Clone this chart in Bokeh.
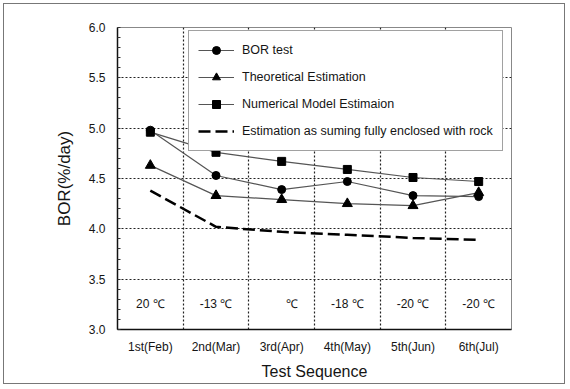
from bokeh.plotting import figure
from bokeh.models import FixedTicker, Legend, LegendItem, ColumnDataSource, Range1d
from bokeh.embed import file_html
from bokeh.resources import INLINE
from bokeh.core.properties import value

# ---- data ----
categories = ["1st(Feb)", "2nd(Mar)", "3rd(Apr)", "4th(May)", "5th(Jun)", "6th(Jul)"]
seq = [1, 2, 3, 4, 5, 6]
bor_test = [4.98, 4.53, 4.39, 4.47, 4.33, 4.32]
theoretical = [4.63, 4.33, 4.29, 4.25, 4.23, 4.36]
numerical = [4.96, 4.76, 4.67, 4.59, 4.51, 4.47]
rock_estimation = [4.38, 4.02, 3.97, 3.94, 3.91, 3.89]
temperatures = ["20 ℃", "-13 ℃", "\u00a0" * 6 + "℃", "-18 ℃", "-20 ℃", "-20 ℃"]
temperature_level = [3.25] * 6
y_ticks = [3.0, 3.5, 4.0, 4.5, 5.0, 5.5, 6.0]
x_grid = [1.5, 2.5, 3.5, 4.5, 5.5]

FONT = "Liberation Sans"
TXT = "#151515"

p = figure(width=562, height=381, output_backend="svg", toolbar_location=None,
           x_range=Range1d(0.5, 6.5), y_range=Range1d(3.0, 6.0),
           min_border_left=113, min_border_right=55, min_border_top=23, min_border_bottom=56)
p.styles = {"border": "1px solid #777777", "margin": "3px"}
p.background_fill_color = "white"
p.border_fill_color = "white"
p.outline_line_color = "#888888"
p.outline_line_width = 1

# axes
p.xaxis.ticker = FixedTicker(ticks=seq)
p.xaxis.major_label_overrides = {s: c for s, c in zip(seq, categories)}
p.yaxis.ticker = FixedTicker(ticks=y_ticks, minor_ticks=[3.0 + 0.1 * i for i in range(31)])
p.yaxis.major_label_overrides = {t: f"{t:.1f}" for t in y_ticks}
for ax in (p.xaxis, p.yaxis):
    ax.axis_line_color = "#111111"
    ax.axis_line_width = 1.5
    ax.major_tick_out = 0
    ax.major_tick_in = 0
    ax.minor_tick_out = 0
    ax.major_label_text_font = FONT
    ax.major_label_text_font_size = "12px"
    ax.major_label_text_color = TXT
    ax.axis_label_text_font = FONT
    ax.axis_label_text_font_style = "normal"
    ax.axis_label_text_color = TXT
p.xaxis.minor_tick_in = 0
p.yaxis.minor_tick_in = 3
p.yaxis.minor_tick_line_color = "#333333"
p.xaxis.major_label_standoff = 10
p.yaxis.major_label_standoff = 12
p.xaxis.axis_label = "Test Sequence"
p.yaxis.axis_label = "BOR(%/day)"
p.xaxis.axis_label_text_font_size = "16px"
p.yaxis.axis_label_text_font_size = "17px"
p.xaxis.axis_label_standoff = 6
p.yaxis.axis_label_standoff = 12

# grids
p.xgrid.ticker = FixedTicker(ticks=x_grid)
p.ygrid.ticker = FixedTicker(ticks=[3.5, 4.0, 4.5, 5.0, 5.5])
for g in (p.xgrid, p.ygrid):
    g.grid_line_color = "#222222"
    g.grid_line_dash = "2 2"
    g.grid_line_width = 1.2

src = ColumnDataSource(dict(x=seq, bor=bor_test, th=theoretical, num=numerical, rock=rock_estimation))
LINE = "#555555"

r_bor_l = p.line("x", "bor", source=src, line_color=LINE, line_width=1.2)
r_bor_m = p.scatter("x", "bor", source=src, marker="circle", size=8, fill_color="black", line_color="black")
r_th_l = p.line("x", "th", source=src, line_color=LINE, line_width=1.2)
r_th_m = p.scatter("x", "th", source=src, marker="triangle", size=10, fill_color="black", line_color="black")
r_num_l = p.line("x", "num", source=src, line_color=LINE, line_width=1.2)
r_num_m = p.scatter("x", "num", source=src, marker="square", size=8, fill_color="black", line_color="black")
r_rock = p.line("x", "rock", source=src, line_color="black", line_width=2.5, line_dash="12 5")

# temperature labels
tsrc = ColumnDataSource(dict(x=seq, y=temperature_level, t=temperatures))
p.text("x", "y", text="t", source=tsrc, text_font=value(FONT), text_font_size="12px",
       text_align="center", text_baseline="middle", text_color=TXT)

legend = Legend(items=[
    LegendItem(label="BOR test", renderers=[r_bor_l, r_bor_m]),
    LegendItem(label="Theoretical Estimation", renderers=[r_th_l, r_th_m]),
    LegendItem(label="Numerical Model Estimaion", renderers=[r_num_l, r_num_m]),
    LegendItem(label="Estimation as suming fully enclosed with rock", renderers=[r_rock]),
], location=(71, 178))
legend.label_text_font = FONT
legend.label_text_font_size = "12.5px"
legend.label_text_color = TXT
legend.glyph_width = 36
legend.glyph_height = 20
legend.label_height = 20
legend.label_standoff = 8
legend.spacing = 7
legend.padding = 9
legend.margin = 0
legend.border_line_color = "#444444"
legend.border_line_width = 1.5
legend.background_fill_alpha = 1.0
p.add_layout(legend)

open("out.html", "w").write(file_html(p, INLINE))
